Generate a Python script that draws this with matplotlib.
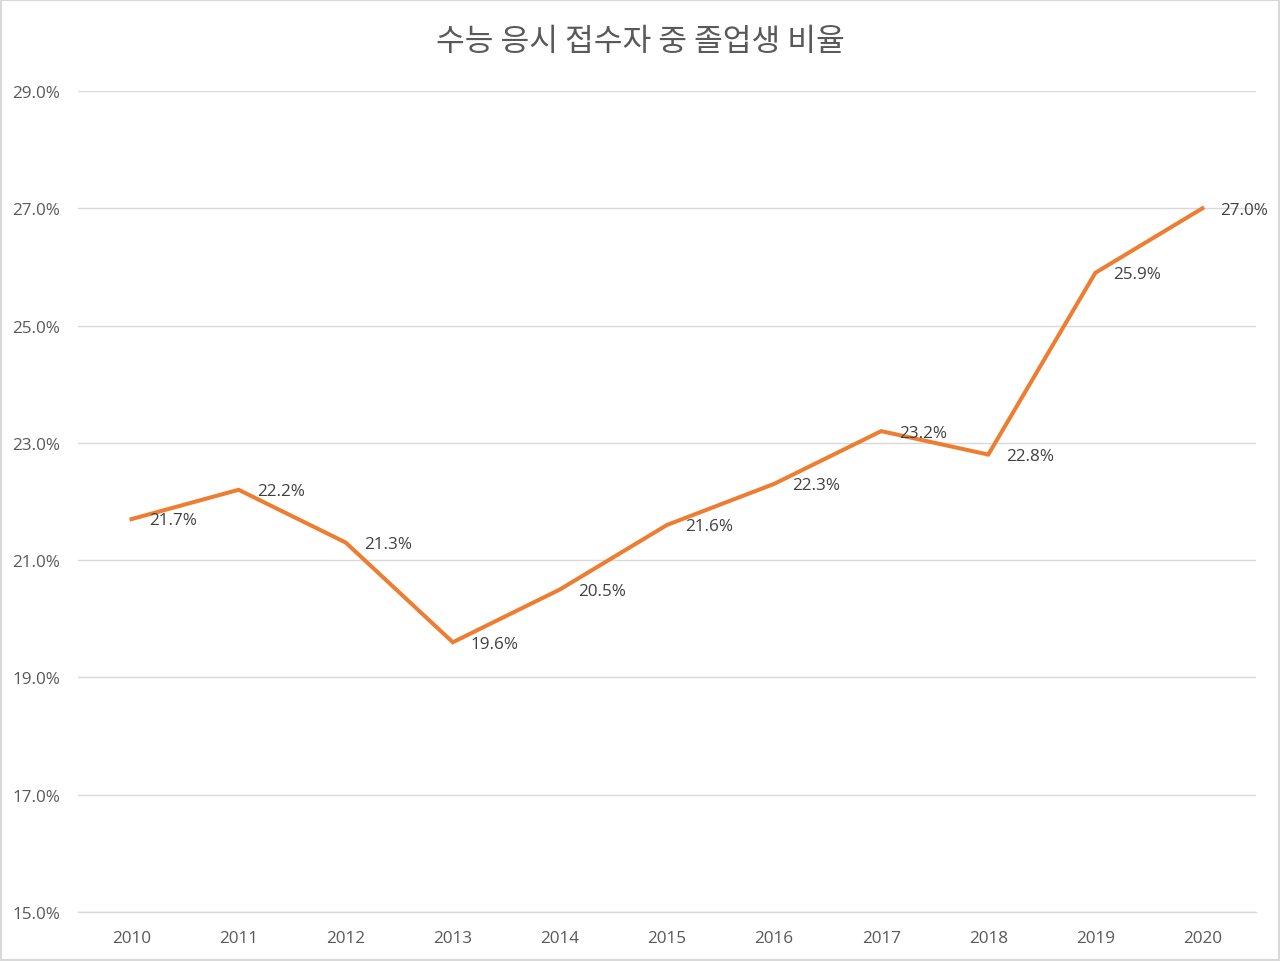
import numpy as np
import matplotlib.pyplot as plt
from matplotlib.patches import Rectangle

plt.rcParams['font.family'] = ['Noto Sans CJK KR', 'DejaVu Sans']

# data
years = ['2010', '2011', '2012', '2013', '2014', '2015', '2016', '2017', '2018', '2019', '2020']
ratio = [21.7, 22.2, 21.3, 19.6, 20.5, 21.6, 22.3, 23.2, 22.8, 25.9, 27.0]
yticks = [15, 17, 19, 21, 23, 25, 27, 29]

fig = plt.figure(figsize=(12.8, 9.62), dpi=100)
ax = fig.add_axes([78 / 1280, 49 / 962, 1178 / 1280, 821 / 962])

x = np.arange(len(years))
ax.plot(x, ratio, color='#ED7D31', lw=2.9, solid_joinstyle='miter', zorder=3)

for xi, v in zip(x, ratio):
    ax.annotate(f'{v:.1f}%', (xi, v), xytext=(13, -1), textcoords='offset points',
                ha='left', va='center', fontsize=12.3, color='#404040',
                family=['Open Sans', 'DejaVu Sans'])

ax.set_xlim(-0.5, len(years) - 0.5)
ax.set_ylim(15, 29)
ax.set_yticks(yticks)
ax.set_yticklabels([f'{t:.1f}%' for t in yticks], family=['Open Sans', 'DejaVu Sans'])
ax.set_xticks(x)
ax.set_xticklabels(years, family=['Open Sans', 'DejaVu Sans'])
ax.tick_params(axis='both', length=0, labelsize=12.3, labelcolor='#595959')
ax.tick_params(axis='y', pad=13)
ax.tick_params(axis='x', pad=13)
ax.grid(axis='y', color='#D9D9D9', lw=1)
ax.set_axisbelow(True)
for s in ax.spines.values():
    s.set_visible(False)
ax.spines['bottom'].set_visible(True)
ax.spines['bottom'].set_color('#D9D9D9')
ax.spines['bottom'].set_linewidth(1)

fig.text(0.5, 1 - 42 / 962, '수능 응시 접수자 중 졸업생 비율', ha='center', va='center',
         fontsize=22.5, color='#595959', fontweight='light')

fig.patches.append(Rectangle((0.0005, 0.0008), 0.999, 0.9984, transform=fig.transFigure,
                             fill=False, edgecolor='#D9D9D9', lw=1.5))

plt.savefig('out.png', dpi=100)
